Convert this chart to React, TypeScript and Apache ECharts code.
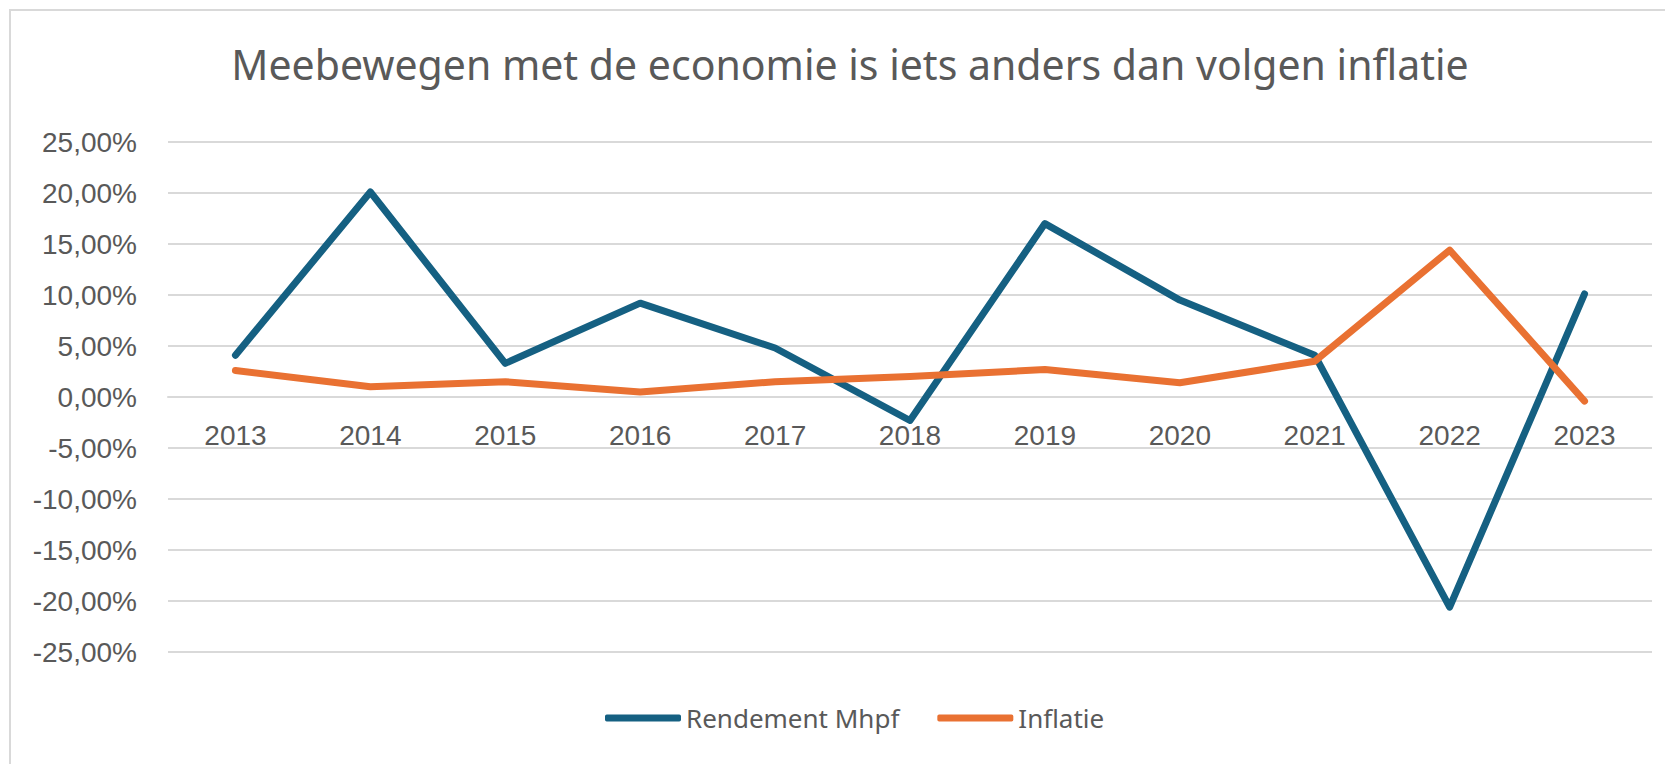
import React, { useEffect, useRef } from "react";
import * as echarts from "echarts";

const TITLE = "Meebewegen met de economie is iets anders dan volgen inflatie";
const YEARS = ["2013", "2014", "2015", "2016", "2017", "2018", "2019", "2020", "2021", "2022", "2023"];
const RENDEMENT = [4.1, 20.1, 3.3, 9.2, 4.8, -2.3, 17.0, 9.5, 4.1, -20.6, 10.1];
const INFLATIE = [2.6, 1.0, 1.5, 0.5, 1.5, 2.0, 2.7, 1.4, 3.5, 14.4, -0.4];
const SERIES_NAMES = ["Rendement Mhpf", "Inflatie"];
const Y_MIN = -25;
const Y_MAX = 25;
const Y_STEP = 5;

const GRID_TOP = 142;
const GRID_BOTTOM = 112;
const CHART_H = 764;

const fmtPct = (v: number) => v.toFixed(2).replace(".", ",") + "%";

export default function App() {
  const ref = useRef<HTMLDivElement>(null);
  useEffect(() => {
    if (!ref.current) return;
    const chart = echarts.init(ref.current, undefined, { renderer: "svg" });
    const textColor = "#595959";
    const gridColor = "#d9d9d9";
    // move the category axis up to the zero line of the value axis
    const plotH = CHART_H - GRID_TOP - GRID_BOTTOM;
    const zeroFrac = (Y_MAX - 0) / (Y_MAX - Y_MIN);
    const axisOffset = -(plotH * (1 - zeroFrac));
    chart.setOption({
      animation: false,
      backgroundColor: "#ffffff",
      title: {
        text: TITLE,
        left: 845,
        top: 38,
        textAlign: "center",
        textStyle: {
          fontFamily: "Noto Sans",
          fontSize: 41,
          fontWeight: "normal",
          color: textColor,
        },
      },
      graphic: [
        {
          type: "rect",
          shape: { x: 10, y: 10, width: 1700, height: 820 },
          style: { fill: "none", stroke: gridColor, lineWidth: 2 },
          silent: true,
          z: -10,
        },
      ],
      legend: {
        data: SERIES_NAMES,
        left: 600,
        top: 700,
        icon: "roundRect",
        itemWidth: 76,
        itemHeight: 7,
        itemGap: 38,
        textStyle: { fontFamily: "Noto Sans", fontSize: 26, color: textColor },
      },
      grid: { left: 168, right: 13, top: GRID_TOP, bottom: GRID_BOTTOM, containLabel: false },
      xAxis: {
        type: "category",
        data: YEARS,
        boundaryGap: true,
        offset: axisOffset,
        axisLine: { show: true, onZero: false, lineStyle: { color: gridColor, width: 2 } },
        axisTick: { show: false },
        axisLabel: {
          margin: 24,
          fontFamily: "Liberation Sans",
          fontSize: 28,
          color: textColor,
        },
        splitLine: { show: false },
      },
      yAxis: {
        type: "value",
        min: Y_MIN,
        max: Y_MAX,
        interval: Y_STEP,
        axisLine: { show: false },
        axisTick: { show: false },
        axisLabel: {
          margin: 31,
          fontFamily: "Liberation Sans",
          fontSize: 28,
          color: textColor,
          formatter: (v: number) => fmtPct(v),
        },
        splitLine: { show: true, lineStyle: { color: gridColor, width: 2 } },
      },
      series: [
        {
          name: SERIES_NAMES[0],
          type: "line",
          data: RENDEMENT,
          symbol: "none",
          color: "#156082",
          lineStyle: { color: "#156082", width: 7, cap: "round", join: "round" },
          z: 2,
        },
        {
          name: SERIES_NAMES[1],
          type: "line",
          data: INFLATIE,
          symbol: "none",
          color: "#E97132",
          lineStyle: { color: "#E97132", width: 7, cap: "round", join: "round" },
          z: 3,
        },
      ],
    });
    return () => chart.dispose();
  }, []);
  return (
    <div
      ref={ref}
      style={{ position: "absolute", left: 0, top: 0, width: 1665, height: 764, background: "#fff" }}
    />
  );
}
